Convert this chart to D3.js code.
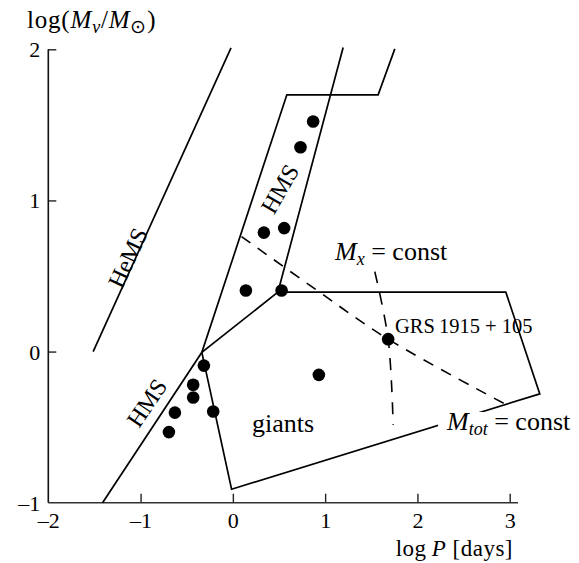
<!DOCTYPE html>
<html><head><meta charset="utf-8">
<script src="https://cdn.jsdelivr.net/npm/d3@7"></script>
<style>
body{margin:0;background:#fff}
svg{display:block}
text{font-family:"Liberation Serif","Times New Roman",serif;fill:#000}
</style>
</head><body>
<svg id="chart" width="579" height="563"></svg>
<script>
// axis ticks
const xTicks = [-2, -1, 0, 1, 2, 3];
const yTicks = [-1, 0, 1, 2];

// observed binaries: log P [days], log(Mv/Msun)
const starLogP = [0.870, 0.733, 0.556, 0.336, 0.141, 0.528, 1.683, 0.932, -0.314, -0.430, -0.430, -0.628, -0.213, -0.693];
const starLogM = [1.522, 1.352, 0.817, 0.787, 0.404, 0.404, 0.082, -0.154, -0.093, -0.220, -0.304, -0.404, -0.397, -0.533];

// helium main sequence
const hemsLogP = [-1.514, -0.020];
const hemsLogM = [0.000, 2.010];

// hydrogen main sequence band (outer and inner boundaries)
const hmsOuterLogP = [-1.412, -0.336, 0.585, 1.574, 1.755];
const hmsOuterLogM = [-1.000, -0.005, 1.699, 1.699, 2.003];
const hmsInnerLogP = [1.195, 0.488];
const hmsInnerLogM = [2.012, 0.393];

// giants region
const giantsLogP = [0.488, 2.958, 3.326, -0.014, -0.336, 0.488];
const giantsLogM = [0.393, 0.393, -0.280, -0.911, -0.005, 0.393];

// constant-mass tracks through GRS 1915+105
const mtotLogP = [0.094, 0.900, 1.683, 2.947];
const mtotLogM = [0.761, 0.410, 0.082, -0.346];
const mxLogP = [1.538, 1.683, 1.737];
const mxLogM = [0.529, 0.082, -0.485];

const svg = d3.select("#chart");
const x = d3.scaleLinear().domain([-2, 3]).range([48.3, 509.7]);
const y = d3.scaleLinear().domain([-1, 2]).range([502.7, 49.3]);

const zip = (a, b) => a.map((v, i) => [v, b[i]]);
const line = d3.line().x(d => x(d[0])).y(d => y(d[1]));
const smooth = d3.line().x(d => x(d[0])).y(d => y(d[1])).curve(d3.curveCatmullRom.alpha(0.5));

// axes
const fmt = d => d < 0 ? "\u2013" + Math.abs(d) : String(d);
const gx = svg.append("g").attr("transform", `translate(0,${y(-1)})`)
  .call(d3.axisBottom(x).tickValues(xTicks).tickFormat(fmt).tickSizeInner(-9).tickSizeOuter(0).tickPadding(11));
const gy = svg.append("g").attr("transform", `translate(${x(-2)},0)`)
  .call(d3.axisLeft(y).tickValues(yTicks).tickFormat(fmt).tickSizeInner(-8).tickSizeOuter(0).tickPadding(8));
[gx, gy].forEach(g => {
  g.select(".domain").remove();
  g.selectAll(".tick line").attr("stroke", "#222").attr("stroke-width", 1.4);
  g.selectAll(".tick text").style("font-family", '"Liberation Serif",serif').style("font-size", "22px").attr("fill", "#000");
});
gy.selectAll(".tick text").attr("dy", "0.34em");
gx.selectAll(".tick text").attr("dy", "0.66em");
gx.selectAll(".tick").filter(d => d === -2).select("line").remove();
gy.selectAll(".tick").filter(d => d === -1).select("line").remove();

svg.append("line").attr("x1", x(-2)).attr("x2", x(3.09)).attr("y1", y(-1)).attr("y2", y(-1))
  .attr("stroke", "#333").attr("stroke-width", 1.6);
svg.append("line").attr("x1", x(-2)).attr("x2", x(-2)).attr("y1", y(-1)).attr("y2", y(2))
  .attr("stroke", "#111").attr("stroke-width", 1.6);

// boundaries
const solid = (p, m) => svg.append("path").attr("d", line(zip(p, m)))
  .attr("fill", "none").attr("stroke", "#000").attr("stroke-width", 1.7).attr("stroke-linejoin", "miter");
solid(hemsLogP, hemsLogM);
solid(hmsOuterLogP, hmsOuterLogM);
solid(hmsInnerLogP, hmsInnerLogM);
solid(giantsLogP, giantsLogM);

// dashed tracks
svg.append("path").attr("d", smooth(zip(mtotLogP, mtotLogM)))
  .attr("fill", "none").attr("stroke", "#000").attr("stroke-width", 1.6).attr("stroke-dasharray", "11,9");
svg.append("path").attr("d", smooth(zip(mxLogP, mxLogM)))
  .attr("fill", "none").attr("stroke", "#000").attr("stroke-width", 1.6).attr("stroke-dasharray", "12,10");

// observed systems
svg.append("g").selectAll("circle").data(zip(starLogP, starLogM)).join("circle")
  .attr("cx", d => x(d[0])).attr("cy", d => y(d[1])).attr("r", 6.3).attr("fill", "#000");

// labels
const yl = svg.append("text").attr("x", 27).attr("y", 28).style("font-size", "25px").style("letter-spacing", "0.8px");
yl.append("tspan").text("log(");
yl.append("tspan").style("font-style", "italic").text("M");
yl.append("tspan").style("font-style", "italic").style("font-size", "18px").attr("dy", 5).text("v");
yl.append("tspan").attr("dy", -5).text("/");
yl.append("tspan").style("font-style", "italic").text("M");
yl.append("tspan").style("font-size", "19px").attr("dy", 5).text("\u2299");
yl.append("tspan").attr("dy", -5).text(")");

const xl = svg.append("text").attr("x", 513).attr("y", 556).attr("text-anchor", "end").style("font-size", "23px").style("letter-spacing", "0.5px");
xl.append("tspan").text("log\u2009");
xl.append("tspan").style("font-style", "italic").text("P");
xl.append("tspan").text(" [days]");

const rot = (txt, cx, cy, ang) => svg.append("text")
  .attr("transform", `translate(${cx},${cy}) rotate(${ang})`)
  .attr("text-anchor", "middle").attr("dominant-baseline", "central").style("font-size", "24px").text(txt);
rot("HeMS", 128, 258, -65);
rot("HMS", 280, 189, -60);
rot("HMS", 147, 403, -56);

svg.append("text").attr("x", 252).attr("y", 432).style("font-size", "26px").text("giants");
svg.append("text").attr("x", 395).attr("y", 333).style("font-size", "20.5px").text("GRS\u20091915 + 105");

const mx = svg.append("text").attr("x", 335).attr("y", 260).style("font-size", "26px");
mx.append("tspan").style("font-style", "italic").text("M");
mx.append("tspan").style("font-style", "italic").style("font-size", "18px").attr("dy", 5).text("x");
mx.append("tspan").attr("dy", -5).text(" = const");

svg.append("rect").attr("x", 438).attr("y", 412).attr("width", 141).attr("height", 32).attr("fill", "#fff");
const mt = svg.append("text").attr("x", 447).attr("y", 430).style("font-size", "26px");
mt.append("tspan").style("font-style", "italic").text("M");
mt.append("tspan").style("font-style", "italic").style("font-size", "18px").attr("dy", 5).text("tot");
mt.append("tspan").attr("dy", -5).text(" = const");
</script>
</body></html>
